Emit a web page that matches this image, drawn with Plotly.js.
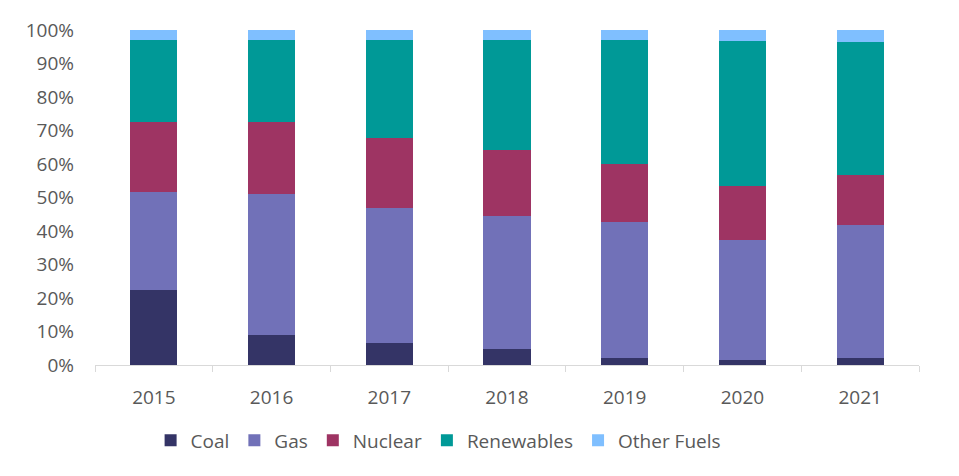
<!DOCTYPE html>
<html>
<head>
<meta charset="utf-8">
<script src="https://cdn.plot.ly/plotly-3.0.1.min.js"></script>
<style>
  body { margin: 0; background: #fff; }
  #chart { width: 959px; height: 476px; }
</style>
</head>
<body>
<div id="chart"></div>
<script>
// generation mix by year, share of total
var years = ['2015', '2016', '2017', '2018', '2019', '2020', '2021'];

var coal       = [22.3,  9.0,  6.5,  4.8,  2.0,  1.4,  2.0];
var gas        = [29.3, 42.1, 40.4, 39.6, 40.8, 35.8, 39.9];
var nuclear    = [20.8, 21.3, 20.9, 19.8, 17.2, 16.1, 14.7];
var renewables = [24.7, 24.5, 29.3, 32.9, 37.1, 43.3, 39.7];
var otherFuels = [ 2.9,  3.1,  2.9,  2.9,  2.9,  3.4,  3.7];

var names  = ['Coal', 'Gas', 'Nuclear', 'Renewables', 'Other Fuels'];
var series = [coal, gas, nuclear, renewables, otherFuels];
var colors = ['#343466', '#7171b8', '#9e3463', '#009997', '#7fbfff'];

var data = [];
for (let i = 0; i < series.length; i++) {
    data.push({
        x: years,
        y: series[i].map(function (v) { return v / 100; }),
        name: names[i],
        type: 'bar',
        marker: { color: colors[i], line: { width: 0 } },
        hoverinfo: 'skip'
    });
}

var font = { family: '"Open Sans", "Liberation Sans", sans-serif', size: 19, color: '#595959' };

var layout = {
    width: 959,
    height: 476,
    barmode: 'stack',
    bargap: 0.6,
    margin: { l: 95, r: 40, t: 30, b: 111 },
    paper_bgcolor: '#fff',
    plot_bgcolor: '#fff',
    font: font,
    showlegend: true,
    legend: {
        orientation: 'h',
        x: 0.417,
        xanchor: 'center',
        y: -0.225,
        yanchor: 'middle',
        font: font,
        traceorder: 'normal'
    },
    xaxis: {
        type: 'category',
        showline: true,
        linecolor: '#d9d9d9',
        linewidth: 1,
        ticks: 'outside',
        tickson: 'boundaries',
        ticklen: 6,
        tickcolor: '#d9d9d9',
        ticklabelstandoff: 15,
        showgrid: false,
        zeroline: false,
        fixedrange: true
    },
    yaxis: {
        range: [0, 1],
        dtick: 0.1,
        tickformat: '.0%',
        showline: false,
        showgrid: false,
        zeroline: false,
        ticks: '',
        ticklabelstandoff: 20,
        fixedrange: true
    }
};

Plotly.newPlot('chart', data, layout, { displayModeBar: false, staticPlot: true });
</script>
</body>
</html>
